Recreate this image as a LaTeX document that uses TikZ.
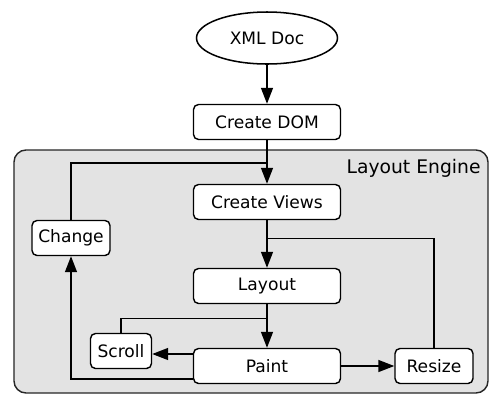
\documentclass[tikz,border=0pt]{standalone}
\usepackage{fontspec}
\setmainfont{DejaVu Sans}
\usetikzlibrary{arrows.meta, shapes.geometric}
\tikzstyle{fTerminal} = [ellipse, minimum width=4.23cm, minimum height=1.56cm, text centered, draw=black, fill=white, line width=1.3pt]
\tikzstyle{fStep} = [rectangle, rounded corners=0.15cm, minimum width=4.41cm, minimum height=1.05cm, text centered, draw=black, fill=white, line width=1.2pt]
\tikzstyle{fSmall} = [fStep, minimum width=2.34cm]
\tikzstyle{fEngine} = [rounded corners=0.36cm, draw=black!85, fill=black!11, line width=1.2pt]
\tikzstyle{fLine} = [line width=1.2pt]
\tikzstyle{fArrow} = [fLine, -{Triangle[length=0.48cm, width=0.36cm]}]

\begin{document}
\begin{tikzpicture}[node distance=2.4cm, font=\fontsize{14.6}{17}\selectfont]
    \useasboundingbox (-8.01,1.14) rectangle (6.66,-10.74);
    % engine container
    \draw [fEngine] (-7.59,-3.36) rectangle (6.63,-10.65);
    \node (enginelabel) [anchor=east, font=\fontsize{16}{18}\selectfont] at (6.53,-3.9) {Layout Engine};

    \node (xmldoc) [fTerminal] at (0,0) {XML Doc};
    \node (createdom) [fStep, below of=xmldoc, yshift=-0.12cm] {Create DOM};
    \node (createviews) [fStep, below of=createdom] {Create Views};
    \node (layout) [fStep, below of=createviews, yshift=-0.12cm] {Layout};
    \node (paint) [fStep, below of=layout] {Paint};
    \node (change) [fSmall, left of=createviews, xshift=-3.48cm, yshift=-1.08cm] {Change};
    \node (scroll) [fSmall, minimum width=1.83cm, left of=paint, xshift=-1.98cm, yshift=0.45cm] {Scroll};
    \node (resize) [fSmall, right of=paint, xshift=2.61cm] {Resize};

    \coordinate (jviews) at ([yshift=0.63cm]createviews.north);
    \coordinate (jlayout) at ([yshift=-0.54cm]createviews.south);
    \coordinate (jpaint) at ([yshift=-0.42cm]layout.south);

    \draw [fArrow] (xmldoc) -- (createdom);
    \draw [fArrow] (createdom) -- (createviews);
    \draw [fArrow] (createviews) -- (layout);
    \draw [fArrow] (layout) -- (paint);
    \draw [fLine] (change) |- (jviews);
    \draw [fLine] (resize) |- (jlayout);
    \draw [fLine] (scroll) |- (jpaint);
    \draw [fArrow] ([yshift=0.36cm]paint.west) -- ([yshift=0.36cm]paint.west -| scroll.east);
    \draw [fArrow] ([yshift=-0.39cm]paint.west) -| (change);
    \draw [fArrow] (paint) -- (paint -| resize.west);
\end{tikzpicture}
\end{document}
